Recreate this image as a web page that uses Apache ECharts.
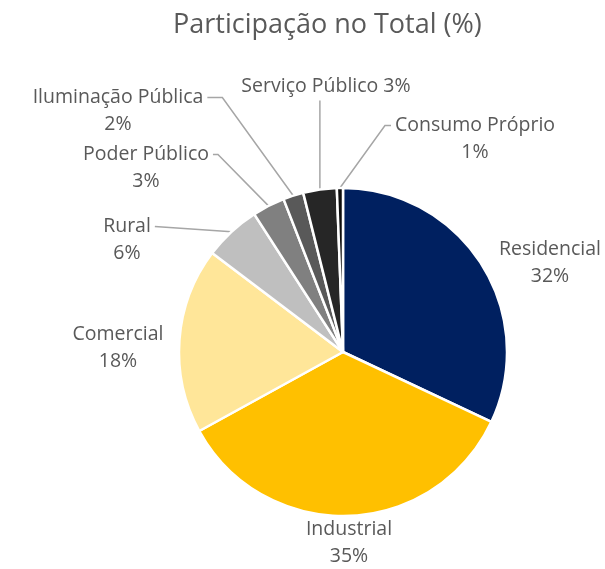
<!DOCTYPE html>
<html>
<head>
<meta charset="utf-8">
<script src="https://cdn.jsdelivr.net/npm/echarts@6/dist/echarts.min.js"></script>
<style>
html,body{margin:0;padding:0;background:#fff;}
#chart{width:605px;height:569px;}
</style>
</head>
<body>
<div id="chart"></div>
<script>
// ---- data ----
const categories = ['Residencial','Industrial','Comercial','Rural','Poder Público','Iluminação Pública','Serviço Público','Consumo Próprio'];
const shares = [32.0, 35.0, 18.3, 5.6, 3.2, 2.0, 3.3, 0.6];
const titleText = 'Participação no Total (%)';

// ---- style / layout ----
const colors = ['#002060','#FFC000','#FFE699','#BFBFBF','#808080','#595959','#262626','#0D0D0D'];
const labelCenters = [[550,263],[349,543],[118,348],[127,240],[146,168],[118,111],[326,86],[475,139]];
const singleLine = [false,false,false,false,false,false,true,false];
// leader: null = none, 'v' = vertical, number = horizontal segment length
const leader = [null,null,null,0,5,15,'v',6];
const FONT = 'Open Sans';
const LH = 27;

const chart = echarts.init(document.getElementById('chart'), null, {renderer:'canvas'});

const data = categories.map((c,i)=>({
  name:c, value:shares[i],
  itemStyle:{color:colors[i]},
  labelLine:{show: leader[i] !== null}
}));

chart.setOption({
  animation:false,
  title:{
    text:titleText, left:168, top:7,
    textStyle:{fontFamily:FONT,fontSize:27,fontWeight:'normal',color:'#595959'}
  },
  series:[{
    type:'pie',
    center:[343,352],
    radius:164,
    startAngle:90,
    clockwise:true,
    avoidLabelOverlap:false,
    data:data,
    itemStyle:{borderColor:'#ffffff',borderWidth:2.5},
    label:{
      show:true, position:'outside',
      fontFamily:FONT, fontSize:19.5, color:'#595959', lineHeight:LH, align:'center',
      formatter:(p)=> singleLine[p.dataIndex] ? p.name+' '+Math.round(p.percent)+'%' : p.name+'\n'+Math.round(p.percent)+'%'
    },
    labelLine:{show:true, length:10, length2:10, lineStyle:{color:'#A6A6A6',width:1.5}},
    labelLayout:function(params){
      const i = params.dataIndex;
      const c = labelCenters[i];
      const w = params.labelRect.width, h = params.labelRect.height;
      const out = {x:c[0], y:c[1], align:'center', verticalAlign:'middle'};
      const L = leader[i];
      if (L !== null && params.labelLinePoints) {
        const a = params.labelLinePoints[0];
        if (L === 'v') {
          const end = [a[0], c[1] + h/2 + 1];
          out.labelLinePoints = [a, end, end];
        } else {
          const side = c[0] < a[0] ? 1 : -1;
          const lineY = singleLine[i] ? c[1] : c[1] - LH/2;
          const end = [c[0] + side*(w/2 + 4), lineY];
          const bend = [end[0] + side*L, lineY];
          out.labelLinePoints = [a, bend, end];
        }
      }
      return out;
    }
  }]
});
</script>
</body>
</html>
